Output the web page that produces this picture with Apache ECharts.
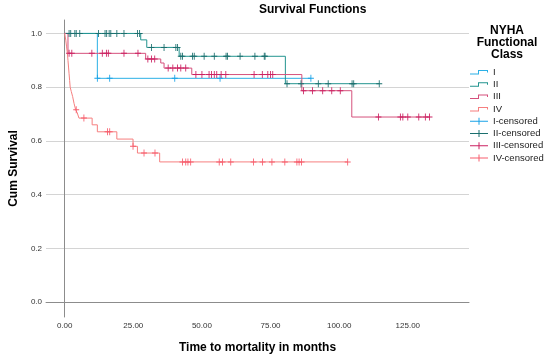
<!DOCTYPE html>
<html>
<head>
<meta charset="utf-8">
<script src="https://cdn.jsdelivr.net/npm/echarts@6/dist/echarts.min.js"></script>
<style>html,body{margin:0;padding:0;background:#fff}#c{width:550px;height:359px}</style>
</head>
<body>
<div id="c"></div>
<script>
// ---- data ----
const groups = ['I', 'II', 'III', 'IV'];
const timesI = [0, 11.9, 89.7];
const survI = [1, 0.833, 0.833];
const timesII = [0, 27.7, 29.9, 41.7, 80.4, 114.6];
const survII = [1, 0.976, 0.948, 0.915, 0.813, 0.813];
const timesIII = [0, 1.2, 29.5, 35, 36.2, 46.3, 86.4, 104.6, 132.9];
const survIII = [1, 0.926, 0.905, 0.89, 0.871, 0.847, 0.787, 0.689, 0.689];
const timesIV = [0, 0.4, 0.7, 1.0, 1.2, 1.4, 1.6, 1.8, 2.0, 2.4, 2.9, 3.4, 4.0, 4.6, 5.2, 10, 11.9, 19, 24.9, 26.5, 34.6, 103.1];
const survIV = [1, 0.975, 0.95, 0.925, 0.9, 0.875, 0.85, 0.825, 0.8, 0.784, 0.765, 0.74, 0.716, 0.704, 0.685, 0.66, 0.634, 0.607, 0.58, 0.555, 0.522, 0.522];
const censI = [11.9, 16.4, 40.1, 56.6, 89.7];
const censII = [1.6, 2.2, 3.7, 4.2, 5.5, 12.3, 14.7, 15.3, 16.2, 16.8, 19, 21.6, 26.5, 27.3, 31.6, 36.2, 40.5, 41.1, 42.3, 42.9, 46.6, 47.2, 50.8, 54.5, 58.8, 59.3, 63.9, 69.3, 72.7, 73.0, 81, 86.1, 92.4, 96, 104.7, 105.3, 114.6];
const censIII = [1.6, 2.6, 9.9, 13.7, 15.2, 15.9, 21.6, 26.7, 30.3, 31.6, 32.8, 37.7, 39.4, 41.1, 42.3, 44.1, 47.8, 50, 52.6, 53.5, 54.5, 55.4, 57, 58.7, 69, 72, 74, 75, 75.8, 87, 90.3, 94, 97.3, 100.4, 114.3, 122.3, 123.2, 125, 129, 131.4, 132.9];
const censIV = [4.2, 7, 15.6, 16.4, 24.9, 28.9, 32.9, 42.9, 44.1, 44.9, 45.9, 56.3, 57.5, 60.5, 68.8, 72.1, 75.5, 80.2, 84.6, 85.4, 86.3, 103.1];
const xTicks = [0, 25, 50, 75, 100, 125];
const yTicks = [0, 0.2, 0.4, 0.6, 0.8, 1.0];

// ---- styling ----
const lineColors = ['#2bb0e6', '#23948f', '#d5517c', '#f67f7f'];
const censColors = ['#1aa3e8', '#1b6f6e', '#cc2262', '#f75e6e'];
const corner = 'M0,0 L0.01,0 L0.01,0.01 Z M18,8 L17.99,8 L17.99,7.99 Z ';
const stepIcon = 'path://' + corner + 'M0,5.5 L8,5.5 L8,2 L18,2 L18,4.5 L17,4.5 L17,3 L9,3 L9,6.5 L0,6.5 Z';
const censIcon = 'path://' + corner + 'M0,3.5 L8.5,3.5 L8.5,0.5 L9.5,0.5 L9.5,3.5 L18,3.5 L18,4.5 L9.5,4.5 L9.5,7.5 L8.5,7.5 L8.5,4.5 L0,4.5 Z';
const plusSym = 'path://M3,0 L4,0 L4,3 L7,3 L7,4 L4,4 L4,7 L3,7 L3,4 L0,4 L0,3 L3,3 Z';

const allTimes = [timesI, timesII, timesIII, timesIV];
const allSurv = [survI, survII, survIII, survIV];
const allCens = [censI, censII, censIII, censIV];

function survAt(times, surv, t) {
  let s = surv[0];
  for (let i = 0; i < times.length; i++) { if (times[i] <= t) s = surv[i]; }
  return s;
}

const series = [];
groups.forEach((g, k) => {
  series.push({
    name: g, type: 'line', step: 'end', symbol: 'none', silent: true,
    data: allTimes[k].map((t, i) => [t, allSurv[k][i]]),
    lineStyle: { color: lineColors[k], width: 1 },
    itemStyle: { color: lineColors[k] },
    z: 2
  });
});
groups.forEach((g, k) => {
  series.push({
    name: g + '-censored', type: 'scatter', symbol: plusSym, symbolSize: [6, 7], silent: true,
    data: allCens[k].map(t => [t, survAt(allTimes[k], allSurv[k], t)]),
    itemStyle: { color: censColors[k], opacity: 1 },
    z: 3
  });
});

const legendData = groups.map(g => ({ name: g, icon: stepIcon }))
  .concat(groups.map(g => ({ name: g + '-censored', icon: censIcon })));

const chart = echarts.init(document.getElementById('c'), null, { renderer: 'canvas' });
chart.setOption({
  animation: false,
  backgroundColor: '#fff',
  title: {
    text: 'Survival Functions', left: 259, top: 4, padding: 0,
    textStyle: { fontFamily: 'Liberation Sans, Arial', fontSize: 12, fontWeight: 'bold', color: '#000' }
  },
  graphic: [{
    type: 'text', x: 507, y: 24.5,
    style: {
      text: 'NYHA\nFunctional\nClass', textAlign: 'center', textVerticalAlign: 'top',
      font: 'bold 12px "Liberation Sans", Arial', lineHeight: 12.2, fill: '#000'
    }
  }],
  legend: {
    orient: 'vertical', left: 470, top: 66, padding: 0,
    itemWidth: 18, itemHeight: 8, itemGap: 0.3,
    itemStyle: { borderWidth: 0 },
    textStyle: { fontFamily: 'Liberation Sans, Arial', fontSize: 9.5, lineHeight: 12, color: '#222' },
    data: legendData, selectedMode: false
  },
  grid: { left: 46, right: 81, top: 20, bottom: 42 },
  xAxis: {
    type: 'value', min: -6.8, max: 147.3,
    name: 'Time to mortality in months', nameLocation: 'middle', nameGap: 25,
    nameTextStyle: { fontFamily: 'Liberation Sans, Arial', fontSize: 12, fontWeight: 'bold', color: '#000' },
    axisLine: { show: true, lineStyle: { color: '#8c8c8c', width: 1 } },
    axisTick: { show: false, customValues: xTicks },
    axisLabel: { customValues: xTicks, formatter: v => v.toFixed(2), margin: 5, fontFamily: 'Liberation Sans, Arial', fontSize: 8, color: '#333' },
    splitLine: { show: false }
  },
  yAxis: {
    type: 'value', min: -0.055, max: 1.05,
    name: 'Cum Survival', nameLocation: 'middle', nameGap: 26,
    nameTextStyle: { fontFamily: 'Liberation Sans, Arial', fontSize: 12, fontWeight: 'bold', color: '#000' },
    axisLine: { show: true, lineStyle: { color: '#8c8c8c', width: 1 } },
    axisTick: { show: false, customValues: yTicks },
    axisLabel: { customValues: yTicks, formatter: v => v.toFixed(1), margin: 4, fontFamily: 'Liberation Sans, Arial', fontSize: 8, color: '#333' },
    splitLine: { show: true, lineStyle: { color: '#d4d4d4', width: 1 } }
  },
  series: series
});
</script>
</body>
</html>
